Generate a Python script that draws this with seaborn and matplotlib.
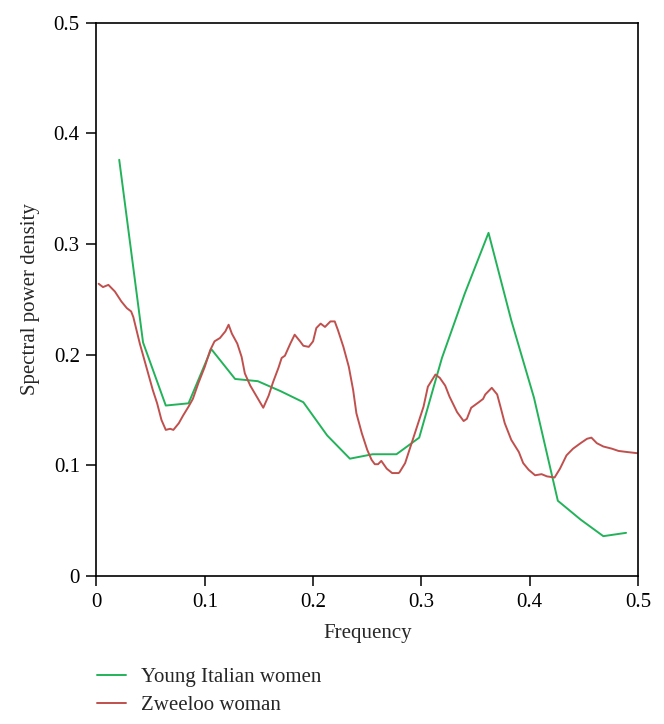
import numpy as np
import pandas as pd
import matplotlib
matplotlib.use("Agg")
import matplotlib.pyplot as plt
import seaborn as sns

# Young Italian women (coarse spectrum)
freq_young = [0.021, 0.043, 0.064, 0.085, 0.106, 0.128, 0.149, 0.170, 0.191, 0.213,
              0.234, 0.255, 0.277, 0.298, 0.319, 0.340, 0.362, 0.383, 0.404, 0.426,
              0.447, 0.468, 0.489]
psd_young = [0.376, 0.211, 0.154, 0.156, 0.205, 0.178, 0.176, 0.167, 0.157, 0.127,
             0.106, 0.110, 0.110, 0.125, 0.197, 0.255, 0.310, 0.231, 0.161, 0.068,
             0.051, 0.036, 0.039]

# Zweeloo woman (fine spectrum)
freq_zwee = [0.002, 0.006, 0.011, 0.017, 0.023, 0.028, 0.032, 0.034, 0.037, 0.040,
             0.046, 0.052, 0.056, 0.060, 0.064, 0.068, 0.071, 0.076, 0.080, 0.085,
             0.089, 0.094, 0.100, 0.105, 0.109, 0.114, 0.119, 0.122, 0.125, 0.130,
             0.134, 0.137, 0.142, 0.148, 0.154, 0.159, 0.163, 0.168, 0.171, 0.174,
             0.179, 0.183, 0.188, 0.191, 0.196, 0.200, 0.203, 0.207, 0.211, 0.216,
             0.220, 0.223, 0.228, 0.233, 0.237, 0.240, 0.245, 0.250, 0.254, 0.257,
             0.260, 0.263, 0.268, 0.273, 0.279, 0.280, 0.285, 0.290, 0.296, 0.302,
             0.306, 0.313, 0.317, 0.322, 0.326, 0.333, 0.339, 0.342, 0.346, 0.353,
             0.357, 0.359, 0.365, 0.370, 0.373, 0.377, 0.383, 0.390, 0.394, 0.399,
             0.405, 0.411, 0.416, 0.423, 0.428, 0.434, 0.440, 0.447, 0.453, 0.457,
             0.462, 0.468, 0.476, 0.482, 0.490, 0.499]
psd_zwee = [0.264, 0.261, 0.263, 0.257, 0.248, 0.242, 0.239, 0.234, 0.222, 0.210,
            0.189, 0.168, 0.156, 0.141, 0.132, 0.133, 0.132, 0.138, 0.145, 0.153,
            0.160, 0.174, 0.189, 0.204, 0.212, 0.215, 0.221, 0.227, 0.219, 0.210,
            0.198, 0.183, 0.172, 0.162, 0.152, 0.163, 0.175, 0.188, 0.197, 0.199,
            0.210, 0.218, 0.212, 0.208, 0.207, 0.212, 0.224, 0.228, 0.225, 0.230,
            0.230, 0.222, 0.207, 0.189, 0.168, 0.147, 0.129, 0.114, 0.105, 0.101,
            0.101, 0.104, 0.097, 0.093, 0.093, 0.094, 0.102, 0.117, 0.135, 0.153,
            0.171, 0.182, 0.179, 0.172, 0.162, 0.148, 0.140, 0.142, 0.152, 0.157,
            0.160, 0.164, 0.170, 0.164, 0.153, 0.138, 0.123, 0.112, 0.102, 0.096,
            0.091, 0.092, 0.090, 0.089, 0.097, 0.109, 0.115, 0.120, 0.124, 0.125,
            0.120, 0.117, 0.115, 0.113, 0.112, 0.111]

df_young = pd.DataFrame({'freq': freq_young, 'psd': psd_young})
df_zwee = pd.DataFrame({'freq': freq_zwee, 'psd': psd_zwee})

sns.set_style('ticks')
plt.rcParams['font.family'] = ['Liberation Serif', 'DejaVu Serif']

fig = plt.figure(figsize=(6.64, 7.24), dpi=100)
ax = fig.add_axes([0.1453, 0.2044, 0.8155, 0.7645])

sns.lineplot(data=df_young, x='freq', y='psd', color='#22b35a', lw=1.4,
             label='Young Italian women', ax=ax, legend=False)
sns.lineplot(data=df_zwee, x='freq', y='psd', color='#c0504d', lw=1.4,
             label='Zweeloo woman', ax=ax, legend=False)

ax.set_xlim(0, 0.5)
ax.set_ylim(0, 0.5)
ax.set_xticks([0, 0.1, 0.2, 0.3, 0.4, 0.5])
ax.set_xticklabels(['0', '0.1', '0.2', '0.3', '0.4', '0.5'])
ax.set_yticks([0, 0.1, 0.2, 0.3, 0.4, 0.5])
ax.set_yticklabels(['0', '0.1', '0.2', '0.3', '0.4', '0.5'])
ax.tick_params(direction='out', length=7, width=1.1, labelsize=15, colors='black', pad=5)
for s in ax.spines.values():
    s.set_visible(True)
    s.set_color('black')
    s.set_linewidth(1.2)

ax.set_xlabel('Frequency', fontsize=15, labelpad=9)
ax.set_ylabel('Spectral power density', fontsize=15, labelpad=10)

handles, labels = ax.get_legend_handles_labels()
fig.legend(handles, labels, loc='upper left', bbox_to_anchor=(0.146, 0.078),
           frameon=False, fontsize=15, handlelength=1.4, handletextpad=0.7,
           labelspacing=0.4, borderpad=0, borderaxespad=0)

fig.savefig('out.png', dpi=100)
